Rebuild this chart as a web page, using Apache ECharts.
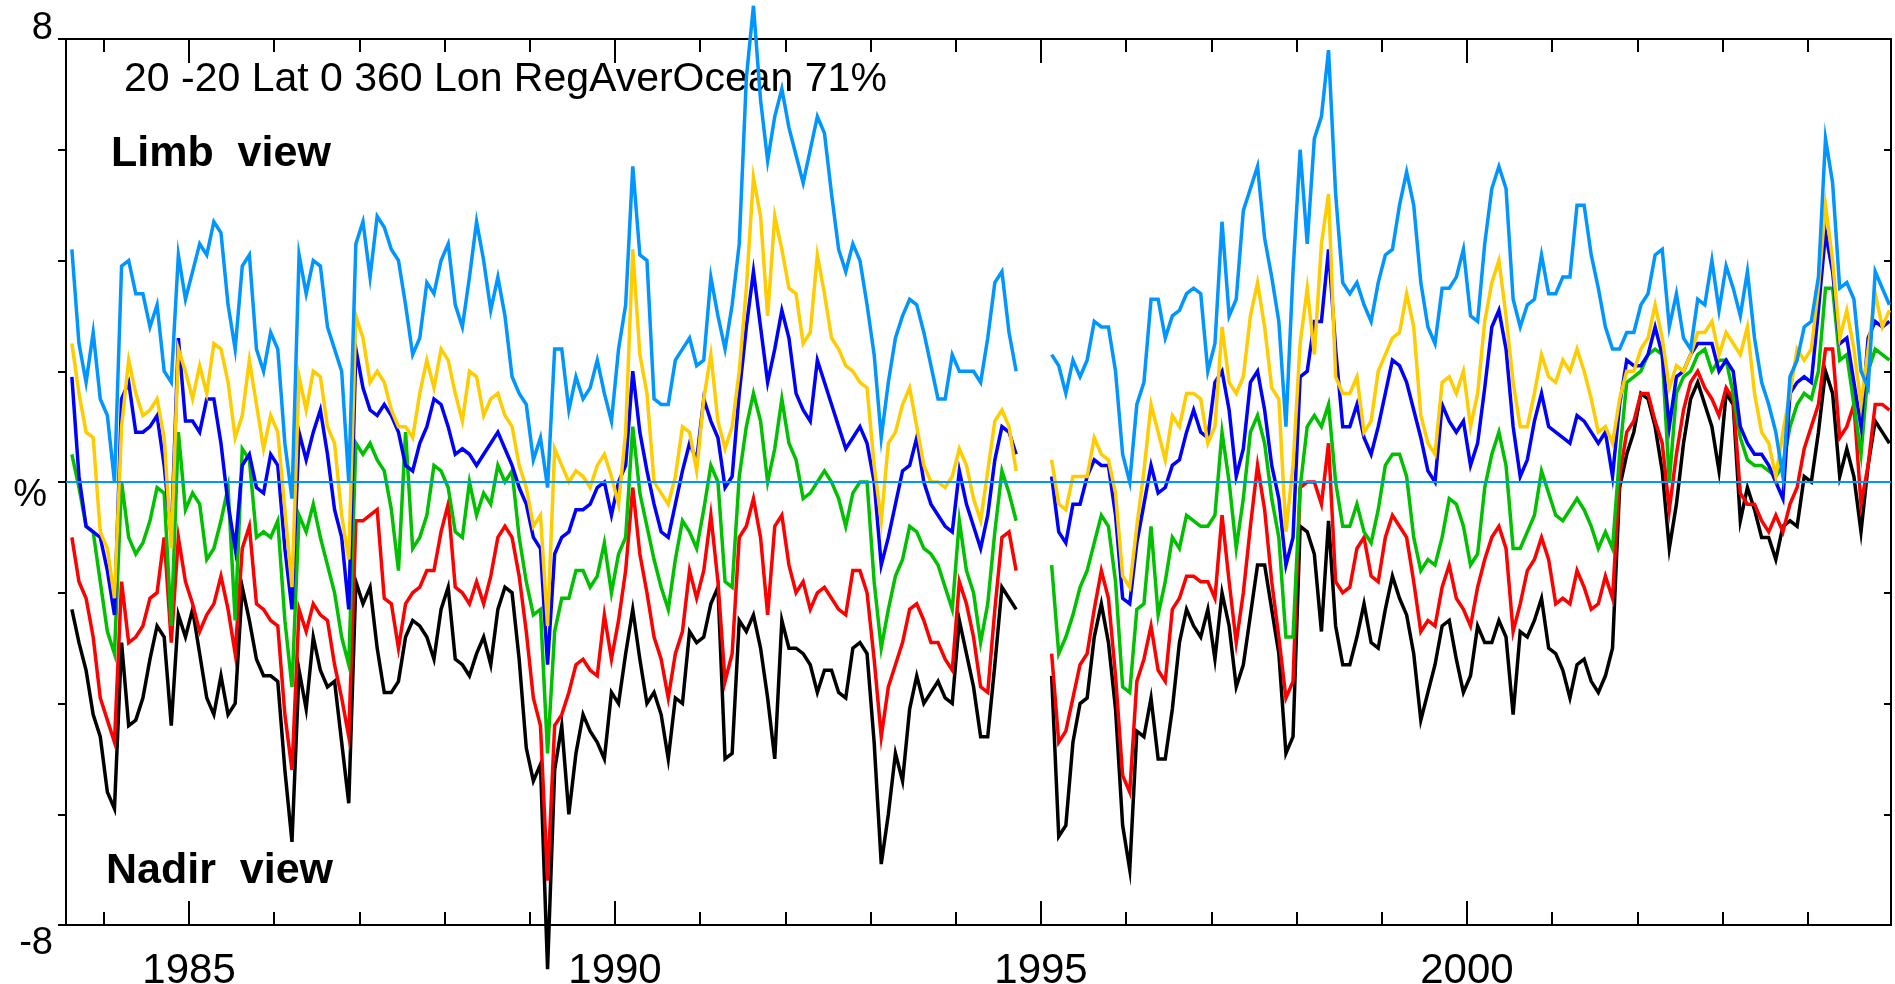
<!DOCTYPE html>
<html><head><meta charset="utf-8">
<script src="https://cdn.jsdelivr.net/npm/echarts@6/dist/echarts.min.js"></script>
<style>html,body{margin:0;padding:0;background:#fff}#c{width:1895px;height:984px}</style>
</head><body><div id="c"></div><script>
// Monthly series, mid-month from Aug 1983 (index 0) to Dec 2004 (index 256); null = no data (Oct 1994 - Jan 1995)
const monthStart = 1983 + 7.5 / 12;
const xMin = 1983.556, xMax = 2004.977;
const yearTicks = [1984,1985,1986,1987,1988,1989,1990,1991,1992,1993,1994,1995,1996,1997,1998,1999,2000,2001,2002,2003,2004];
const yearLabels = [1985,1990,1995,2000];
const yTickLabels = {'8':'8','0':'%','-8':'-8'};
const titleText = '20 -20 Lat 0 360 Lon RegAverOcean 71%';
const limbText = 'Limb  view';
const nadirText = 'Nadir  view';

const limbBlue = [
4.2,2.5,1.8,2.7,1.5,1.2,0.0,3.9,4.0,3.4,
3.4,2.8,3.2,2.0,1.8,4.1,3.3,3.8,4.3,4.1,
4.7,4.5,3.2,2.4,3.9,4.1,2.4,2.0,2.7,2.4,
0.7,-0.3,4.1,3.4,4.0,3.9,2.8,2.4,2.0,0.0,
4.3,4.7,3.7,4.8,4.6,4.2,4.0,3.2,2.3,2.6,
3.6,3.4,4.0,4.3,3.2,2.8,3.7,4.7,4.0,3.1,
3.7,3.0,1.9,1.6,1.4,0.4,0.8,-0.1,2.4,2.4,
1.3,1.9,1.5,1.7,2.2,1.6,1.1,2.4,3.2,5.7,
4.1,4.0,1.5,1.4,1.4,2.2,2.4,2.6,2.1,2.2,
3.7,3.0,2.4,3.2,4.3,7.3,8.6,6.9,5.8,6.6,
7.1,6.4,5.9,5.4,6.0,6.6,6.3,5.2,4.2,3.8,
4.3,4.0,3.2,2.3,0.8,1.8,2.6,3.0,3.3,3.2,
2.7,2.1,1.5,1.5,2.3,2.0,2.0,2.0,1.8,2.6,
3.6,3.8,2.7,2.0,null,null,null,null,2.3,2.1,
1.6,2.2,1.9,2.2,2.9,2.8,2.8,2.0,0.5,0.0,
1.4,1.8,3.3,3.3,2.6,3.0,3.1,3.4,3.5,3.4,
2.0,2.5,4.7,3.0,3.3,4.9,5.3,5.7,4.4,3.7,
2.9,1.0,3.8,6.0,4.3,6.2,6.6,7.8,5.2,3.6,
3.4,3.6,3.2,2.9,3.6,4.1,4.2,5.0,5.6,5.0,
3.6,2.8,2.5,3.5,3.5,3.7,4.2,3.0,2.9,4.3,
5.3,5.7,5.3,3.3,2.8,3.2,3.3,4.1,3.4,3.4,
3.7,3.7,5.0,5.0,4.1,3.5,2.8,2.4,2.4,2.7,
2.7,3.2,3.4,4.1,4.2,2.8,3.4,2.6,2.4,3.3,
3.2,4.0,3.1,3.9,3.5,3.0,3.8,2.6,1.8,1.4,
0.9,0.1,1.9,2.2,2.8,2.9,3.7,6.2,5.4,3.5,
3.6,3.3,2.0,1.7,3.8,3.5,3.2];

const yellow = [
2.5,1.6,0.9,0.8,-0.9,-1.2,-2.1,1.0,2.2,1.6,
1.2,1.3,1.5,0.8,-1.2,2.4,2.0,1.5,2.1,1.6,
2.5,2.4,1.8,0.8,1.2,2.2,1.4,0.6,1.2,0.9,
-0.5,-1.9,1.9,1.3,2.0,1.9,1.0,0.7,-0.6,-1.4,
3.0,2.6,1.8,2.0,1.8,1.3,1.0,1.0,0.8,1.6,
2.2,1.7,2.4,2.2,1.6,1.1,2.0,1.9,1.2,1.5,
1.6,1.2,1.0,0.3,-0.1,-0.8,-0.6,-2.6,0.6,0.3,
0.0,0.2,0.1,-0.1,0.3,0.5,0.1,-0.4,0.9,4.2,
2.3,1.6,0.0,-0.2,-0.4,0.1,1.0,0.9,0.2,1.5,
2.3,1.1,0.6,1.0,2.0,3.5,5.5,4.8,3.0,4.8,
4.2,3.5,3.4,2.5,2.7,4.1,3.4,2.6,2.4,2.1,
2.0,1.8,1.7,0.3,-0.7,0.7,0.9,1.4,1.7,1.0,
0.3,0.0,0.0,-0.1,0.1,0.6,0.3,-0.3,-0.7,0.2,
1.1,1.3,1.0,0.2,null,null,null,null,0.4,-0.4,
-0.5,0.1,0.1,0.1,0.8,0.5,0.4,-0.2,-1.7,-1.9,
-0.8,0.2,1.4,0.9,0.4,1.2,1.0,1.6,1.6,1.5,
0.7,1.0,2.8,1.8,1.6,1.9,3.0,3.6,2.8,1.7,
1.5,-0.9,0.3,2.5,3.5,2.3,4.3,5.2,1.9,1.6,
1.6,1.9,0.9,1.1,2.0,2.3,2.6,2.7,3.4,2.8,
1.2,0.7,0.5,1.8,1.9,1.6,2.0,1.0,1.6,2.9,
3.6,4.0,3.0,1.8,1.0,1.0,1.6,2.3,1.9,1.8,
2.2,2.0,2.4,2.0,1.5,0.9,1.0,0.7,1.5,2.0,
2.0,2.4,2.6,3.2,2.6,1.7,2.1,2.0,2.3,2.7,
2.7,2.9,2.3,2.7,2.5,2.3,2.8,1.6,0.9,0.7,
0.1,0.9,1.6,2.4,2.2,2.4,3.5,5.0,4.0,2.6,
3.1,2.4,1.4,2.4,3.4,2.8,3.1];

const blue = [
1.9,0.1,-0.8,-0.9,-1.0,-1.6,-2.4,1.5,1.8,0.9,
0.9,1.0,1.2,0.3,-1.0,2.6,1.1,1.1,0.9,1.5,
1.5,0.7,-0.4,-1.2,0.3,0.5,-0.1,-0.2,0.5,0.3,
-1.2,-2.3,0.9,0.4,0.9,1.3,0.5,-0.5,-1.0,-2.3,
2.4,1.7,1.3,1.2,1.4,1.2,0.9,0.3,0.2,0.7,
1.0,1.5,1.4,1.0,0.5,0.6,0.5,0.3,0.5,0.7,
0.9,0.6,0.3,-0.1,-0.4,-1.0,-1.2,-3.3,-1.3,-1.0,
-0.9,-0.5,-0.5,-0.4,-0.1,0.0,-0.6,0.0,0.3,2.0,
0.9,0.2,-0.4,-0.9,-1.0,-0.4,0.2,0.7,0.4,1.5,
1.1,0.8,-0.1,0.1,1.6,2.8,3.8,2.8,1.8,2.4,
3.1,2.6,1.6,1.3,1.1,2.2,1.8,1.4,1.0,0.6,
0.8,1.0,0.7,0.0,-1.5,-1.0,-0.4,0.2,0.3,0.8,
0.0,-0.4,-0.6,-0.8,-0.9,0.2,-0.4,-0.8,-1.2,-0.6,
0.4,1.0,0.9,0.5,null,null,null,null,0.1,-0.9,
-1.1,-0.4,-0.4,0.1,0.4,0.3,0.3,-0.6,-2.1,-2.2,
-1.1,-0.4,0.3,-0.2,-0.1,0.3,0.4,0.9,1.3,0.9,
0.8,1.8,2.0,1.3,0.1,0.6,1.8,2.0,1.3,0.3,
-0.3,-1.5,-1.0,1.9,2.0,2.9,2.9,4.2,2.4,1.0,
1.0,1.4,0.8,0.5,1.0,1.6,2.2,2.1,1.8,1.3,
0.8,0.2,0.0,1.4,1.1,0.9,1.1,0.3,0.7,1.7,
2.8,3.1,2.4,1.0,0.1,0.4,1.1,1.6,1.0,0.9,
0.8,0.7,1.2,1.1,0.9,0.7,0.9,0.1,1.4,2.2,
2.1,2.1,2.3,2.8,2.3,1.0,1.9,2.0,2.3,2.5,
2.5,2.5,2.0,2.2,2.0,1.0,0.7,0.5,0.5,0.3,
0.0,-0.3,1.6,1.8,1.9,1.8,3.1,4.5,3.8,2.5,
2.6,1.8,1.0,2.6,2.9,2.8,2.9];

const green = [
0.5,-0.1,-0.8,-0.9,-1.8,-2.7,-3.1,0.0,-1.0,-1.3,
-1.1,-0.7,-0.1,-0.2,-2.6,0.9,-0.5,-0.2,-0.4,-1.4,
-1.2,-0.7,-0.1,-2.5,0.6,0.4,-1.0,-0.9,-1.0,-0.7,
-2.5,-3.7,-0.6,-0.9,-0.4,-1.0,-1.5,-2.0,-2.8,-3.3,
0.7,0.5,0.7,0.4,0.2,-0.5,-1.6,0.9,-1.2,-1.0,
-0.6,0.3,0.2,-0.1,-0.9,-1.0,0.0,-0.6,-0.2,-0.4,
0.3,0.0,0.2,-1.0,-1.8,-2.4,-2.3,-4.9,-2.7,-2.1,
-2.1,-1.6,-1.6,-1.9,-1.7,-1.1,-2.0,-1.3,-1.0,1.0,
-0.2,-0.8,-1.4,-1.9,-2.3,-1.4,-0.7,-0.9,-1.2,-0.5,
0.3,0.0,-1.8,-1.9,0.1,1.0,1.6,1.1,0.0,0.6,
1.5,0.7,0.4,-0.3,-0.2,0.0,0.2,0.0,-0.3,-0.8,
-0.2,0.0,0.0,-1.8,-3.0,-2.3,-1.7,-1.4,-0.8,-0.9,
-1.2,-1.3,-1.5,-1.9,-2.3,-0.7,-1.6,-2.0,-2.9,-2.2,
-0.9,0.2,-0.2,-0.7,null,null,null,null,-1.5,-3.1,
-2.8,-2.4,-1.9,-1.6,-1.1,-0.6,-0.8,-1.8,-3.7,-3.8,
-2.3,-2.2,-0.8,-2.4,-1.8,-1.0,-1.2,-0.6,-0.7,-0.8,
-0.8,-0.6,0.9,0.0,-1.2,-0.3,0.9,1.2,0.7,-0.3,
-1.0,-2.8,-2.8,-0.1,1.0,1.2,1.0,1.4,0.0,-0.8,
-0.8,-0.4,-0.9,-1.1,-0.5,0.3,0.5,0.5,0.1,-1.0,
-1.6,-1.4,-1.5,-1.0,-0.3,-0.4,-0.8,-1.5,-1.3,-0.1,
0.5,0.9,0.3,-1.2,-1.2,-0.9,-0.6,0.2,-0.2,-0.6,
-0.7,-0.5,-0.3,-0.5,-0.8,-1.2,-0.9,-1.2,0.5,1.8,
1.9,2.0,2.3,2.4,2.3,0.0,1.6,1.9,2.0,2.3,
2.4,2.0,2.2,2.2,1.6,0.8,0.4,0.3,0.3,0.2,
0.1,0.3,1.0,1.4,1.6,1.5,2.0,3.5,3.5,2.2,
2.3,1.4,0.5,2.0,2.4,2.3,2.2];

const red = [
-1.0,-1.8,-2.1,-2.8,-3.9,-4.3,-4.7,-1.8,-2.9,-2.8,
-2.6,-2.1,-2.0,-1.0,-2.9,-1.0,-1.8,-2.2,-2.7,-2.4,
-2.2,-1.7,-2.3,-3.1,-1.2,-0.8,-2.2,-2.3,-2.5,-2.6,
-4.2,-5.2,-2.3,-2.7,-2.2,-2.4,-2.5,-3.3,-3.9,-4.6,
-0.7,-0.7,-0.6,-0.5,-2.1,-2.2,-3.0,-2.2,-2.0,-1.9,
-1.6,-1.6,-0.9,-0.4,-1.9,-2.0,-2.2,-1.8,-2.2,-1.7,
-1.0,-0.8,-1.0,-1.7,-2.7,-3.9,-4.4,-7.2,-4.4,-4.2,
-3.8,-3.3,-3.2,-3.4,-3.5,-2.4,-3.2,-2.5,-1.6,-0.1,
-1.3,-2.0,-2.8,-3.2,-3.9,-3.1,-2.7,-1.6,-2.1,-1.6,
-0.6,-1.8,-3.6,-3.1,-1.0,-0.8,-0.3,-1.0,-2.4,-0.8,
-0.6,-1.5,-2.0,-1.8,-2.3,-2.0,-1.9,-2.1,-2.3,-2.4,
-1.6,-1.6,-2.0,-3.2,-4.6,-3.7,-3.3,-2.9,-2.3,-2.2,
-2.5,-2.9,-2.9,-3.2,-3.4,-1.8,-2.2,-2.8,-3.7,-3.8,
-2.3,-1.0,-0.9,-1.6,null,null,null,null,-3.1,-4.7,
-4.5,-3.9,-3.3,-3.1,-2.3,-1.6,-2.1,-3.5,-5.3,-5.6,
-3.6,-3.2,-2.6,-3.4,-3.6,-2.3,-2.1,-1.7,-1.7,-1.8,
-1.8,-2.1,-0.6,-1.8,-2.9,-2.0,-0.8,0.3,-0.5,-1.8,
-2.8,-3.9,-3.6,-0.1,0.0,0.0,-0.4,0.7,-1.8,-2.0,
-1.9,-1.2,-1.0,-1.7,-1.8,-1.0,-0.6,-0.8,-1.0,-1.8,
-2.7,-2.5,-2.6,-1.9,-1.5,-2.1,-2.3,-2.6,-1.9,-1.4,
-1.0,-0.8,-1.2,-2.7,-2.2,-1.6,-1.4,-1.0,-1.4,-2.2,
-2.1,-2.2,-1.6,-1.9,-2.3,-2.2,-1.7,-2.1,0.1,0.9,
1.1,1.6,1.6,1.1,0.7,-0.5,0.5,1.3,1.8,2.0,
1.7,1.5,1.2,1.7,1.5,-0.2,-0.4,-0.4,-0.7,-0.9,
-0.6,-0.9,-0.4,-0.1,0.6,1.0,1.4,2.4,2.4,0.8,
1.0,1.4,-0.4,0.3,1.4,1.4,1.3];

const nadirBlack = [
-2.3,-2.9,-3.4,-4.2,-4.6,-5.6,-5.9,-2.9,-4.4,-4.3,
-3.9,-3.2,-2.6,-2.8,-4.4,-2.4,-2.8,-2.3,-3.1,-3.9,
-4.2,-3.5,-4.2,-4.0,-1.9,-2.5,-3.2,-3.5,-3.5,-3.6,
-5.2,-6.5,-3.4,-4.1,-2.8,-3.4,-3.7,-3.6,-4.7,-5.8,
-1.8,-2.2,-1.9,-3.0,-3.8,-3.8,-3.6,-2.8,-2.5,-2.6,
-2.8,-3.2,-2.3,-1.9,-3.2,-3.3,-3.5,-3.1,-2.8,-3.3,
-2.3,-1.9,-2.0,-3.2,-4.8,-5.4,-5.1,-8.8,-5.2,-4.4,
-6.0,-4.9,-4.2,-4.5,-4.7,-5.0,-3.8,-4.0,-3.1,-2.3,
-3.2,-4.0,-3.8,-4.2,-5.0,-3.9,-4.0,-2.7,-2.9,-2.8,
-2.2,-1.9,-5.0,-4.9,-2.5,-2.7,-2.4,-3.0,-3.9,-5.0,
-2.5,-3.0,-3.0,-3.1,-3.3,-3.8,-3.4,-3.4,-3.8,-3.9,
-3.0,-2.9,-3.1,-4.7,-6.9,-6.0,-4.9,-5.4,-4.1,-3.5,
-4.0,-3.8,-3.6,-3.9,-4.0,-2.5,-3.1,-3.7,-4.6,-4.6,
-3.3,-1.9,-2.1,-2.3,null,null,null,null,-3.5,-6.4,
-6.2,-4.7,-4.0,-3.9,-2.8,-2.2,-2.9,-4.1,-6.2,-7.0,
-4.5,-4.6,-3.9,-5.0,-5.0,-4.1,-2.9,-2.3,-2.6,-2.8,
-2.3,-3.2,-2.0,-2.6,-3.7,-3.3,-2.4,-1.5,-1.5,-2.3,
-3.1,-4.9,-4.6,-0.8,-0.9,-1.3,-2.7,-0.7,-2.6,-3.3,
-3.3,-2.8,-2.2,-2.9,-3.0,-2.3,-1.7,-2.1,-2.4,-3.1,
-4.3,-3.8,-3.3,-2.6,-2.5,-3.2,-3.8,-3.5,-2.6,-2.9,
-2.9,-2.5,-2.8,-4.2,-2.7,-2.8,-2.5,-2.1,-3.0,-3.1,
-3.4,-3.9,-3.3,-3.2,-3.6,-3.8,-3.5,-3.0,-0.1,0.5,
0.9,1.6,1.5,1.0,0.2,-1.2,-0.4,0.7,1.5,1.8,
1.4,1.0,0.2,1.6,1.4,-0.7,-0.1,-0.5,-1.0,-1.0,
-1.4,-0.8,-0.7,-0.8,0.1,0.0,0.9,2.0,1.6,0.1,
0.6,0.1,-0.9,0.3,1.1,0.9,0.7];

const FONT = '"Liberation Sans", Arial, Helvetica, sans-serif';
function pairs(vals) { return vals.map((v, i) => [monthStart + i / 12, v === null ? '-' : v]); }
function lineSeries(name, vals, color, z) {
  return { type: 'line', name, data: pairs(vals), xAxisIndex: 0, yAxisIndex: 0,
    symbol: 'none', showSymbol: false, clip: false, connectNulls: false, z,
    lineStyle: { color, width: 3.5, join: 'miter' }, itemStyle: { color }, emphasis: { disabled: true } };
}

const chart = echarts.init(document.getElementById('c'), null, { renderer: 'canvas' });
const axisLine = { show: true, onZero: false, lineStyle: { color: '#000', width: 2 } };
const baseX = { type: 'value', min: xMin, max: xMax, splitLine: { show: false }, axisLine };
const series = [
  lineSeries('Nadir', nadirBlack, '#000000', 2),
  lineSeries('Red', red, '#ff0000', 3),
  lineSeries('Green', green, '#00c000', 4),
  lineSeries('Blue', blue, '#0000ff', 5),
  lineSeries('Yellow', yellow, '#ffcc00', 6),
  lineSeries('Limb', limbBlue, '#0095ff', 7)
];
series[5].markLine = { silent: true, symbol: ['none', 'none'], label: { show: false },
  lineStyle: { color: '#0095ff', width: 2, type: 'solid' }, data: [{ yAxis: 0 }], z: 8 };

chart.setOption({
  animation: false,
  backgroundColor: '#ffffff',
  grid: { left: 66, right: 4, top: 39, bottom: 59, containLabel: false, outerBoundsMode: 'none' },
  xAxis: [
    Object.assign({}, baseX, { position: 'bottom',
      axisTick: { show: true, inside: true, length: 13, lineStyle: { color: '#000', width: 2 }, customValues: yearTicks },
      axisLabel: { show: false } }),
    Object.assign({}, baseX, { position: 'bottom',
      axisTick: { show: true, inside: true, length: 24, lineStyle: { color: '#000', width: 2 }, customValues: yearLabels },
      axisLabel: { show: true, customValues: yearLabels, margin: 25, fontSize: 42, fontFamily: FONT, color: '#000',
        formatter: v => String(Math.round(v)) } }),
    Object.assign({}, baseX, { position: 'top',
      axisTick: { show: true, inside: true, length: 13, lineStyle: { color: '#000', width: 2 }, customValues: yearTicks },
      axisLabel: { show: false } }),
    Object.assign({}, baseX, { position: 'top',
      axisTick: { show: true, inside: true, length: 24, lineStyle: { color: '#000', width: 2 }, customValues: yearLabels },
      axisLabel: { show: false } })
  ],
  yAxis: [
    { type: 'value', min: -8, max: 8, interval: 2, position: 'left', splitLine: { show: false }, axisLine,
      axisTick: { show: true, inside: false, length: 8, lineStyle: { color: '#000', width: 2 } },
      axisLabel: { show: true, margin: 13, fontSize: 38, fontFamily: FONT, color: '#000',
        verticalAlignMinLabel: 'top',
        formatter: v => { const s = yTickLabels[String(v)]; if (s === undefined) return ''; if (v === 0) return '{p|' + s + '}'; if (v === 8) return '{t|' + s + '}'; return s; },
        rich: { p: { fontSize: 38, fontFamily: FONT, color: '#000', padding: [28, 6, 0, 0] },
                t: { fontSize: 38, fontFamily: FONT, color: '#000', padding: [0, 0, 20, 0] } } } },
    { type: 'value', min: -8, max: 8, interval: 2, position: 'right', splitLine: { show: false }, axisLine,
      axisTick: { show: true, inside: true, length: 7, lineStyle: { color: '#000', width: 2 } },
      axisLabel: { show: false } }
  ],
  graphic: [
    { type: 'text', x: 124, y: 80, silent: true, style: { text: titleText, fill: '#000', font: '41px ' + FONT, align: 'left', verticalAlign: 'middle' } },
    { type: 'text', x: 111, y: 154, silent: true, style: { text: limbText, fill: '#000', font: 'bold 43px ' + FONT, align: 'left', verticalAlign: 'middle' } },
    { type: 'text', x: 106, y: 871, silent: true, style: { text: nadirText, fill: '#000', font: 'bold 43px ' + FONT, align: 'left', verticalAlign: 'middle' } }
  ],
  series
});
</script></body></html>
